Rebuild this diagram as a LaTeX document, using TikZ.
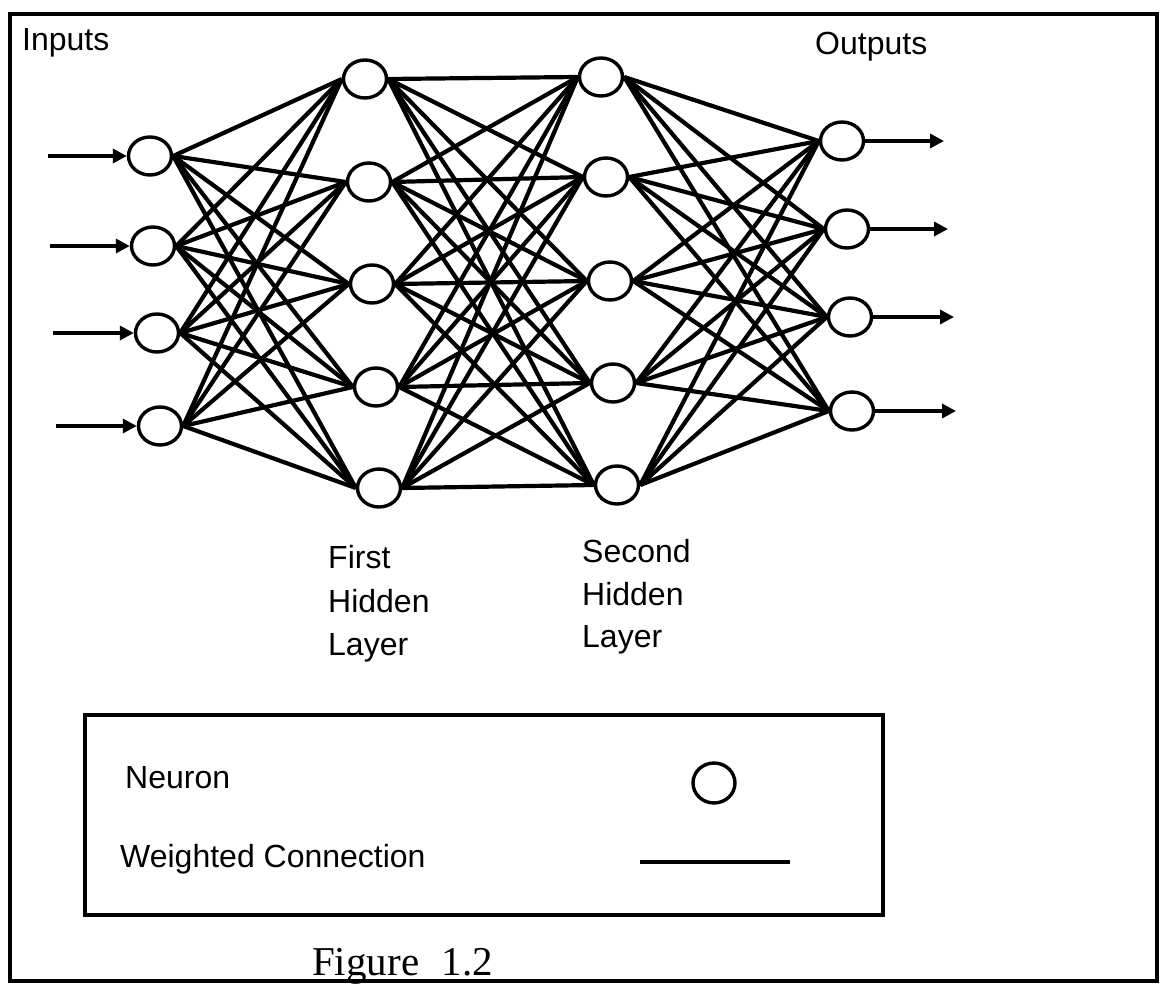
\documentclass[tikz,border=0pt]{standalone}
\usepackage{fontspec}
\setmainfont{Liberation Sans}
\newfontfamily\figserif{Liberation Serif}
\usetikzlibrary{shapes.geometric,arrows.meta}
\tikzset{
  neuron/.style={ellipse,draw,line width=3.4pt,minimum width=43pt,minimum height=38pt,inner sep=0pt},
  conn/.style={line width=4.2pt},
  io/.style={line width=3.4pt,-{Triangle[length=14pt,width=14pt]}},
  lbl/.style={anchor=base west,inner sep=0pt,font=\fontsize{32}{38}\selectfont},
  frame/.style={line width=4.5pt}
}
\begin{document}
\begin{tikzpicture}[x=1pt,y=-1pt]
\useasboundingbox (0,0) rectangle (1160,987);
\draw[frame] (10,14) rectangle (1157,981);
% neurons
\node[neuron] (i1) at (150,156) {};
\node[neuron] (i2) at (153,246) {};
\node[neuron] (i3) at (157,333) {};
\node[neuron] (i4) at (160,426) {};
\node[neuron] (h1) at (365,79) {};
\node[neuron] (h2) at (369,182) {};
\node[neuron] (h3) at (372,284) {};
\node[neuron] (h4) at (376,387) {};
\node[neuron] (h5) at (379,488) {};
\node[neuron] (g1) at (601,77) {};
\node[neuron] (g2) at (606,177) {};
\node[neuron] (g3) at (610,281) {};
\node[neuron] (g4) at (613,383) {};
\node[neuron] (g5) at (617,485) {};
\node[neuron] (o1) at (842,141) {};
\node[neuron] (o2) at (847,229) {};
\node[neuron] (o3) at (850,317) {};
\node[neuron] (o4) at (852,411) {};
% connections
\foreach \a in {1,2,3,4}{\foreach \b in {1,...,5}{\draw[conn] (i\a.east) -- (h\b.west);}}
\foreach \a in {1,...,5}{\foreach \b in {1,...,5}{\draw[conn] (h\a.east) -- (g\b.west);}}
\foreach \a in {1,...,5}{\foreach \b in {1,2,3,4}{\draw[conn] (g\a.east) -- (o\b.west);}}
% input arrows
\coordinate (s1) at (48,156);
\coordinate (s2) at (50,246);
\coordinate (s3) at (53,333);
\coordinate (s4) at (56,426);
\foreach \k in {1,2,3,4}{\draw[io] (s\k) -- (i\k.west);}
% output arrows
\coordinate (t1) at (944,141);
\coordinate (t2) at (948,229);
\coordinate (t3) at (954,317);
\coordinate (t4) at (956,411);
\foreach \k in {1,2,3,4}{\draw[io] (o\k.east) -- (t\k);}
% labels
\node[lbl] (inl) at (22,51) {Inputs};
\node[lbl] (outl) at (815,55) {Outputs};
\node[lbl] (f1) at (328,568) {First};
\node[lbl] (f2) at (328,612) {Hidden};
\node[lbl] (f3) at (328,655) {Layer};
\node[lbl] (s1l) at (582,562) {Second};
\node[lbl] (s2l) at (582,605) {Hidden};
\node[lbl] (s3l) at (582,647) {Layer};
% legend
\draw[frame] (85,715) rectangle (883,915);
\node[lbl] (neul) at (125,788) {Neuron};
\node[lbl] (wcl) at (120,867) {Weighted Connection};
\node[neuron,minimum width=42pt,minimum height=40pt] (leg) at (714,783) {};
\coordinate (la) at (640,862);
\coordinate (lb) at (790,862);
\draw[conn,line width=3.4pt] (la) -- (lb);
\node[anchor=base west,inner sep=0pt,font=\figserif\fontsize{41}{48}\selectfont] (fig) at (312,975) {Figure\hspace{0.55em}1.2};
\end{tikzpicture}
\end{document}
